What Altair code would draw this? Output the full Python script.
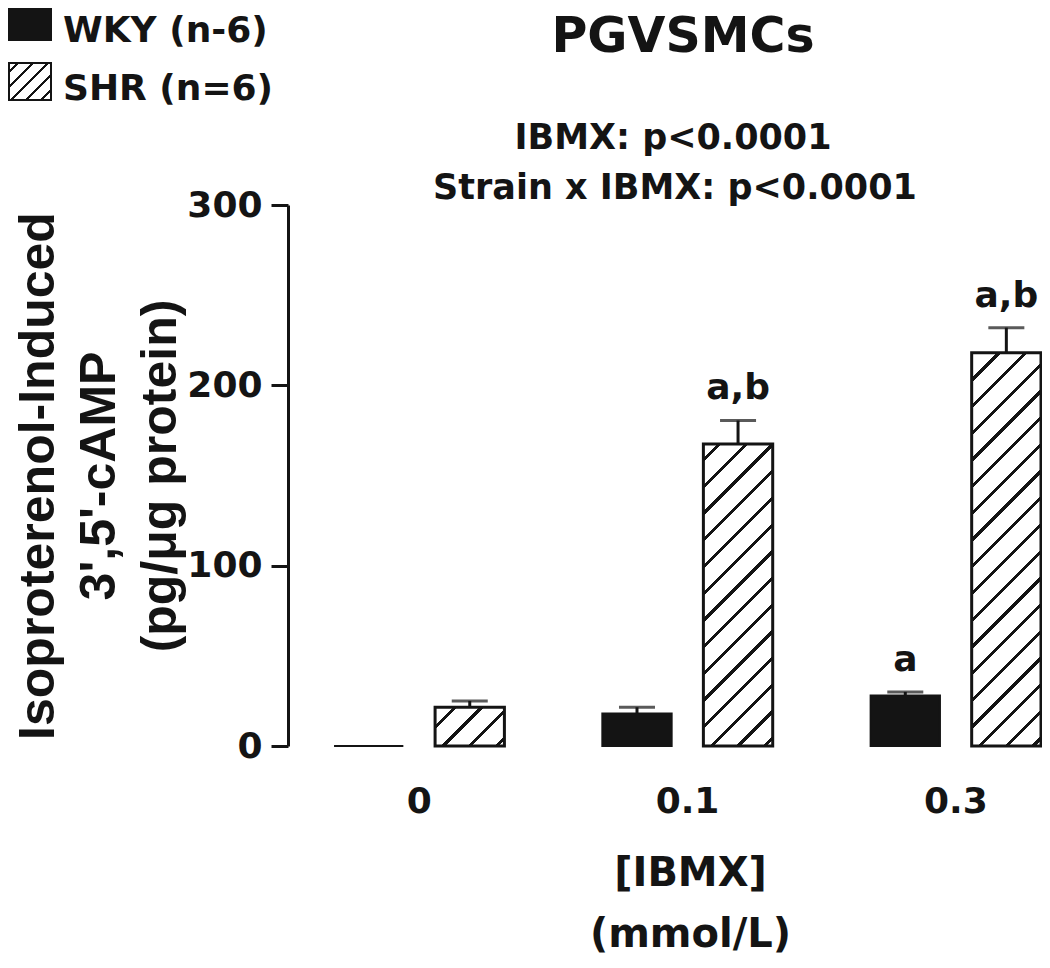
import math
import altair as alt
import pandas as pd

# ---------------- data ----------------
doses = ["0", "0.1", "0.3"]
strains = ["WKY", "SHR"]
wky_mean = [0.0, 18.0, 28.0]
wky_sem = [0.0, 3.5, 2.0]
shr_mean = [21.5, 167.5, 218.0]
shr_sem = [3.5, 13.0, 14.0]
wky_letters = ["", "", "a"]
shr_letters = ["", "a,b", "a,b"]
legend_labels = ["WKY (n-6)", "SHR (n=6)"]
title_text = ["PGVSMCs"]
stats_lines = ["IBMX: p<0.0001", "Strain x IBMX: p<0.0001"]
y_title = ["Isoproterenol-Induced", "3',5'-cAMP", "(pg/\u03bcg protein)"]
x_title = ["[IBMX]", "(mmol/L)"]
y_ticks = [0, 100, 200, 300]

# ---------------- layout / style ----------------
W, H = 753, 541
PAD = {"left": 280, "top": 197, "right": 1, "bottom": 215}
Y_MAX = 300
X_PAD_IN, X_PAD_OUT, OFF_PAD_IN = 0.365, 0.0858, 0.314
INK = "#141414"
PAPER = "#ffffff"
FONT = "DejaVu Sans, Verdana, sans-serif"
FONT_Y = "Liberation Sans, Arial, Helvetica, sans-serif"

step = W / (len(doses) - X_PAD_IN + 2 * X_PAD_OUT)
band = step * (1 - X_PAD_IN)
bar_w = band / (len(strains) - OFF_PAD_IN) * (1 - OFF_PAD_IN)


def hatch(w, h, pitch, thick, phase=0.0):
    """Diagonal '/' hatch as a bbox-relative linear gradient with hard stops."""
    L = w + h
    d = w * w + h * h
    segs = []
    k0 = math.floor((-thick - h - phase) / pitch)
    k1 = math.ceil((L + thick - h - phase) / pitch)
    for k in range(k0, k1 + 1):
        c = h + phase + k * pitch
        a = (c - thick / 2) / L
        b = (c + thick / 2) / L
        if b <= 0 or a >= 1:
            continue
        segs.append((max(a, 0.0), min(b, 1.0)))
    stops = []
    if not segs or segs[0][0] > 0:
        stops.append({"offset": 0, "color": PAPER})
    for a, b in segs:
        if a > 0:
            stops.append({"offset": round(a, 5), "color": PAPER})
        stops.append({"offset": round(a, 5), "color": INK})
        stops.append({"offset": round(b, 5), "color": INK})
        if b < 1:
            stops.append({"offset": round(b, 5), "color": PAPER})
    if stops[-1]["offset"] < 1:
        stops.append({"offset": 1, "color": stops[-1]["color"]})
    return {"gradient": "linear", "x1": 0, "y1": 0,
            "x2": w * L / d, "y2": h * L / d, "stops": stops}


rows = []
for i, d in enumerate(doses):
    rows.append({"dose": d, "strain": strains[0], "mean": wky_mean[i],
                 "sem": wky_sem[i], "letter": wky_letters[i]})
    rows.append({"dose": d, "strain": strains[1], "mean": shr_mean[i],
                 "sem": shr_sem[i], "letter": shr_letters[i]})
df = pd.DataFrame(rows)
df["hi"] = df["mean"] + df["sem"]

xscale = alt.Scale(domain=doses, paddingInner=X_PAD_IN, paddingOuter=X_PAD_OUT, align=1)
oscale = alt.Scale(domain=strains, paddingInner=OFF_PAD_IN, paddingOuter=0)
yscale = alt.Scale(domain=[0, Y_MAX], nice=False, zero=True)

xaxis = alt.Axis(title=x_title, labelAngle=0, domain=False, ticks=False, grid=False,
                 labelFont=FONT, labelFontSize=36, labelFontWeight="bold", labelColor=INK,
                 labelPadding=38, titleFont=FONT, titleFontSize=40, titleFontWeight="bold",
                 titleColor=INK, titleLineHeight=61, titlePadding=34, titleX=402,
                 titleAlign="center")
yaxis = alt.Axis(values=y_ticks, title=y_title, grid=False, domainColor=INK, domainWidth=3,
                 tickColor=INK, tickWidth=3, tickSize=17, labelFont=FONT, labelFontSize=36,
                 labelFontWeight="bold", labelColor=INK, labelPadding=9, titleFont=FONT_Y,
                 titleFontSize=50, titleFontWeight="bold", titleColor=INK, titleLineHeight=61,
                 titlePadding=1)

base = alt.Chart(df)


def enc(first=False, yfield="mean:Q"):
    if first:
        x = alt.X("dose:N", scale=xscale, axis=xaxis)
        y = alt.Y(yfield, scale=yscale, axis=yaxis)
    else:
        x = alt.X("dose:N", scale=xscale)
        y = alt.Y(yfield, scale=yscale)
    return dict(x=x, xOffset=alt.XOffset("strain:N", scale=oscale), y=y)


layers = []
# WKY solid bars (carries the axes)
layers.append(base.transform_filter(alt.datum.strain == strains[0])
              .mark_bar(fill=INK, stroke=INK, strokeWidth=2)
              .encode(**enc(first=True)))
# SHR hatched bars (one gradient per bar, sized to the bar)
for i, d in enumerate(doses):
    h = shr_mean[i] * H / Y_MAX
    layers.append(base.transform_filter((alt.datum.strain == strains[1]) & (alt.datum.dose == d))
                  .mark_bar(fill=hatch(bar_w, h, 26.7, 4.3, 8.0), stroke=INK, strokeWidth=3)
                  .encode(**enc()))
# error bars
err = base.transform_filter(alt.datum.sem > 0)
layers.append(err.mark_rule(color=INK, strokeWidth=3)
              .encode(**enc(), y2=alt.Y2("hi:Q")))
layers.append(err.mark_tick(color=INK, size=36, thickness=3)
              .encode(**enc(yfield="hi:Q")))
# significance letters
layers.append(base.transform_filter(alt.datum.letter != "")
              .mark_text(font=FONT, fontSize=36, fontWeight="bold", color=INK,
                         baseline="alphabetic", align="center", dy=-21)
              .encode(**enc(yfield="hi:Q"), text=alt.Text("letter:N")))


def label(text, x, y, size, align="center"):
    return (alt.Chart(alt.InlineData(values=[{"t": text}]))
            .mark_text(font=FONT, fontSize=size, fontWeight="bold", color=INK,
                       align=align, baseline="alphabetic")
            .encode(x=alt.value(x), y=alt.value(y), text=alt.Text("t:N")))


# title and statistics
layers.append(label(title_text[0], 395, -153, 49))
layers.append(label(stats_lines[0], 385, -56, 35))
layers.append(label(stats_lines[1], 387, -6, 35))

# legend
one = alt.InlineData(values=[{"k": 1}])
layers.append(alt.Chart(one).mark_rect(fill=INK)
              .encode(x=alt.value(-280), x2=alt.value(-236), y=alt.value(-197), y2=alt.value(-164)))
layers.append(alt.Chart(one).mark_rect(fill=hatch(42, 37, 15, 3.6, 2.0), stroke=INK, strokeWidth=2)
              .encode(x=alt.value(-279), x2=alt.value(-237), y=alt.value(-142), y2=alt.value(-105)))
layers.append(label(legend_labels[0], -225, -163, 36, align="left"))
layers.append(label(legend_labels[1], -225, -105, 36, align="left"))

chart = (alt.layer(*layers)
         .properties(width=W, height=H, autosize=alt.AutoSizeParams(type="none"),
                     padding=PAD, background="white")
         .configure_view(stroke="transparent"))

chart.save("out.html", embed_options={"renderer": "svg", "actions": False})
